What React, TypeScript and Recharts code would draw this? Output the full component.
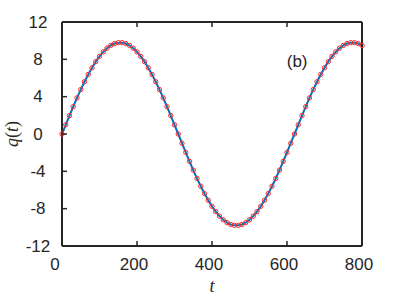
import React from "react";
import { LineChart, Line, XAxis, YAxis, ReferenceDot } from "recharts";

const tValues = [
  0, 10, 20, 30, 40, 50, 60, 70, 80, 90, 100, 110, 120, 130, 140, 150, 160, 170, 180, 190,
  200, 210, 220, 230, 240, 250, 260, 270, 280, 290, 300, 310, 320, 330, 340, 350, 360, 370,
  380, 390, 400, 410, 420, 430, 440, 450, 460, 470, 480, 490, 500, 510, 520, 530, 540, 550,
  560, 570, 580, 590, 600, 610, 620, 630, 640, 650, 660, 670, 680, 690, 700, 710, 720, 730,
  740, 750, 760, 770, 780, 790, 800,
];
const qValues = [
  0, 0.99, 1.97, 2.93, 3.87, 4.76, 5.6, 6.38, 7.1, 7.75, 8.32, 8.8, 9.19, 9.49, 9.69, 9.79,
  9.79, 9.69, 9.49, 9.19, 8.8, 8.32, 7.75, 7.1, 6.38, 5.6, 4.76, 3.87, 2.93, 1.97, 0.99, 0,
  -0.99, -1.97, -2.93, -3.87, -4.76, -5.6, -6.38, -7.1, -7.75, -8.32, -8.8, -9.19, -9.49,
  -9.69, -9.79, -9.79, -9.69, -9.49, -9.19, -8.8, -8.32, -7.75, -7.1, -6.38, -5.6, -4.76,
  -3.87, -2.93, -1.97, -0.99, 0, 0.99, 1.97, 2.93, 3.87, 4.76, 5.6, 6.38, 7.1, 7.75, 8.32,
  8.8, 9.19, 9.49, 9.69, 9.79, 9.79, 9.69, 9.49,
];
const xTicks = [0, 200, 400, 600, 800];
const yTicks = [-12, -8, -4, 0, 4, 8, 12];
const innerXTicks = [200, 400, 600];
const innerYTicks = [-8, -4, 0, 4, 8];

const data = tValues.map((t, i) => ({ t, q: qValues[i] }));

const AXIS = "#262626";
const tickFont = { fontFamily: "'Liberation Sans', Arial, sans-serif", fontSize: 17, fill: AXIS };

const LeftTick = ({ x, y, payload }: any) => (
  <g>
    <text x={x - 24} y={y} textAnchor="middle" dominantBaseline="central" {...tickFont}>
      {payload.value}
    </text>
    {innerYTicks.includes(Number(payload.value)) && (
      <line x1={x} x2={x + 5} y1={y} y2={y} stroke={AXIS} strokeWidth={1.5} />
    )}
  </g>
);

const BottomTick = ({ x, y, payload }: any) => {
  const v = Number(payload.value);
  return (
    <g>
      <text x={x + (v === 0 ? -7 : -3)} y={y + 18} textAnchor="middle" dominantBaseline="central" {...tickFont}>
        {payload.value}
      </text>
      {innerXTicks.includes(v) && <line x1={x} x2={x} y1={y} y2={y - 5} stroke={AXIS} strokeWidth={1.5} />}
    </g>
  );
};

const TopTick = ({ x, y, payload }: any) =>
  innerXTicks.includes(Number(payload.value)) ? (
    <line x1={x} x2={x} y1={y} y2={y + 5} stroke={AXIS} strokeWidth={1.5} />
  ) : (
    <g />
  );

const RightTick = ({ x, y, payload }: any) =>
  innerYTicks.includes(Number(payload.value)) ? (
    <line x1={x} x2={x - 5} y1={y} y2={y} stroke={AXIS} strokeWidth={1.5} />
  ) : (
    <g />
  );

const QLabel = ({ viewBox }: any) => {
  const cx = 12;
  const cy = viewBox.y + viewBox.height / 2;
  return (
    <text
      x={cx}
      y={cy}
      transform={`rotate(-90 ${cx} ${cy})`}
      textAnchor="middle"
      dominantBaseline="central"
      fontFamily="'Liberation Serif', 'Times New Roman', serif"
      fontSize={18}
      fill={AXIS}
    >
      <tspan fontStyle="italic">q</tspan>(<tspan fontStyle="italic">t</tspan>)
    </text>
  );
};

const TLabel = ({ viewBox }: any) => (
  <text
    x={viewBox.x + viewBox.width / 2}
    y={viewBox.y + 40}
    textAnchor="middle"
    dominantBaseline="central"
    fontFamily="'Liberation Serif', 'Times New Roman', serif"
    fontStyle="italic"
    fontSize={18}
    fill={AXIS}
  >
    t
  </text>
);

export default function App() {
  return (
    <div style={{ position: "absolute", left: 0, top: 0, background: "#fff" }}>
      <LineChart width={399} height={299} data={data} margin={{ top: 0, right: 0, bottom: 0, left: 0 }}>
        <XAxis
          dataKey="t"
          type="number"
          domain={[0, 800]}
          ticks={xTicks}
          interval={0}
          tickSize={0}
          tickMargin={0}
          tickLine={false}
          height={53}
          axisLine={{ stroke: AXIS, strokeWidth: 2 }}
          tick={BottomTick}
          label={<TLabel />}
        />
        <XAxis
          xAxisId="top"
          orientation="top"
          dataKey="t"
          type="number"
          domain={[0, 800]}
          ticks={xTicks}
          interval={0}
          tickSize={0}
          tickMargin={0}
          tickLine={false}
          height={22}
          axisLine={{ stroke: AXIS, strokeWidth: 2 }}
          tick={TopTick}
        />
        <YAxis
          type="number"
          domain={[-12, 12]}
          ticks={yTicks}
          interval={0}
          tickSize={0}
          tickMargin={0}
          tickLine={false}
          width={62}
          axisLine={{ stroke: AXIS, strokeWidth: 2 }}
          tick={LeftTick}
          label={<QLabel />}
        />
        <YAxis
          yAxisId="right"
          orientation="right"
          type="number"
          domain={[-12, 12]}
          ticks={yTicks}
          interval={0}
          tickSize={0}
          tickMargin={0}
          tickLine={false}
          width={37}
          axisLine={{ stroke: AXIS, strokeWidth: 2 }}
          tick={RightTick}
        />
        <Line
          dataKey="q"
          type="linear"
          stroke="#0072BD"
          strokeWidth={2}
          dot={{ r: 2.2, stroke: "#ff2a2a", strokeWidth: 1, fill: "none" }}
          isAnimationActive={false}
        />
        <ReferenceDot
          x={627}
          y={7.8}
          r={0}
          ifOverflow="visible"
          label={{
            value: "(b)",
            position: "center",
            fontFamily: "'Liberation Sans', Arial, sans-serif",
            fontSize: 17,
            fill: AXIS,
          }}
        />
      </LineChart>
    </div>
  );
}
